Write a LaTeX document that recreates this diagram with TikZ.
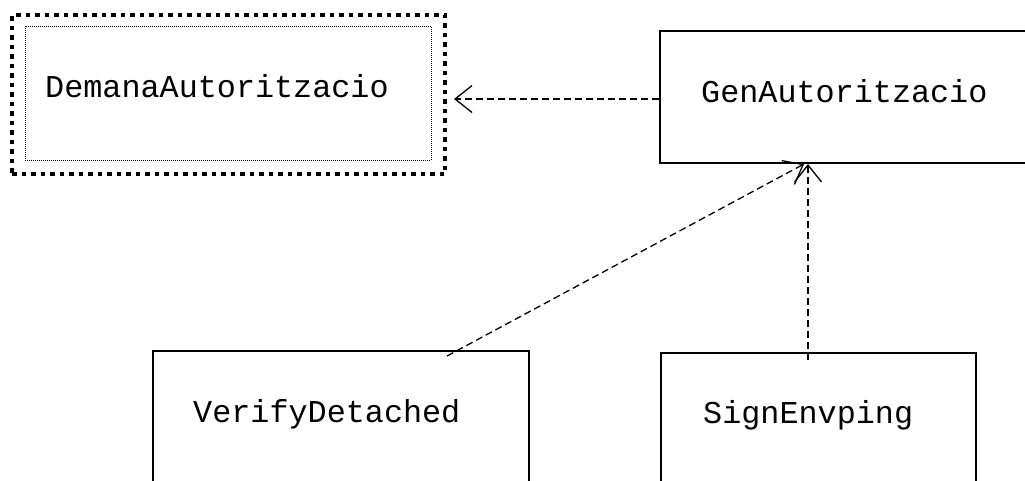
\documentclass[tikz,border=0pt]{standalone}
\usepackage{fontspec}
\newfontfamily\classfont{Liberation Mono}
\usetikzlibrary{arrows.meta}
\tikzset{
  classbox/.style={draw=black, line width=1.6pt, inner sep=0pt, fill=white},
  classname/.style={font=\classfont\fontsize{31.8}{38}\selectfont, anchor=base west, inner sep=0pt},
  outerdots/.style={draw=black, line width=4.5pt, dash pattern=on 4.5pt off 5pt, inner sep=0pt},
  innerdots/.style={draw=black, line width=0.9pt, dash pattern=on 1pt off 1pt, inner sep=0pt},
  dep/.style={draw=black, line width=1.3pt, dash pattern=on 7pt off 4pt,
    -{Straight Barb[length=17pt,width=27pt,line width=1.3pt]}}
}
\begin{document}
\begin{tikzpicture}[x=1pt,y=-1pt]
\clip (0,0) rectangle (1025,480);
\fill[white] (0,0) rectangle (1025,480);

% selected class with its double dotted frame
\node[outerdots, minimum width=433pt, minimum height=159pt] (dem) at (228.5,94.5) {};
\node[innerdots, minimum width=406pt, minimum height=134pt] (demin) at (228,93) {};
\node[classname] (demtxt) at (45,97) {DemanaAutoritzacio};

% the other classes
\node[classbox, minimum width=370pt, minimum height=132pt] (gen) at (845,97) {};
\node[classname] (gentxt) at (701,102) {GenAutoritzacio};

\node[classbox, minimum width=376pt, minimum height=150pt] (ver) at (341,426) {};
\node[classname] (vertxt) at (193,422) {VerifyDetached};

\node[classbox, minimum width=315pt, minimum height=150pt] (sig) at (818.5,428) {};
\node[classname] (sigtxt) at (703,423) {SignEnvping};

% connector end points
\coordinate (demtip) at (454,99);
\coordinate (genleft) at (gen.west |- demtip);
\coordinate (verstart) at (447,356);
\coordinate (gentip1) at (804,164);
\coordinate (sigstart) at (808,360);
\coordinate (gentip2) at (808,164);

% dependencies
\draw[dep] (genleft) -- (demtip);
\draw[dep] (verstart) -- (gentip1);
\draw[dep] (sigstart) -- (gentip2);
\end{tikzpicture}
\end{document}
